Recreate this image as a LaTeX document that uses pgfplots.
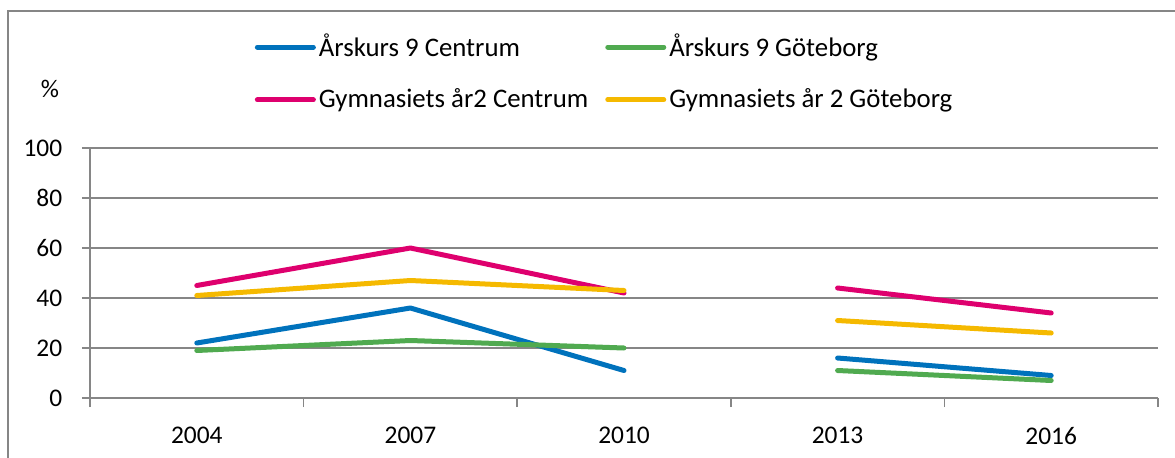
\documentclass[border=0pt]{standalone}
\usepackage{fontspec}
\setmainfont{Carlito}
\usepackage{pgfplots}
\usepackage{pgfplotstable}
\pgfplotsset{compat=1.18}
\definecolor{cblue}{RGB}{0,114,188}
\definecolor{cgreen}{RGB}{80,170,80}
\definecolor{cmag}{RGB}{222,0,110}
\definecolor{cyel}{RGB}{245,185,0}
\definecolor{axgray}{RGB}{134,134,134}
\pgfplotstableread{
x a b c d
0 22 19 45 41
1 36 23 60 47
2 11 20 42 43
2.5 nan nan nan nan
3 16 11 44 31
4 9 7 34 26
}\data
\begin{document}
\fontsize{12.7pt}{15pt}\selectfont
\begin{tikzpicture}
\useasboundingbox (0,0) rectangle (587.5pt,228.5pt);
\draw[axgray, line width=0.75pt] (4pt,-5pt) -- (4pt,223pt) -- (600pt,223pt);
\begin{axis}[
  at={(45pt,29.5pt)}, anchor=south west,
  scale only axis, width=534pt, height=125pt,
  xmin=-0.5, xmax=4.5, ymin=0, ymax=100,
  xtick={0,...,4}, xticklabels={2004,2007,2010,2013,2016},
  ytick={0,20,...,100},
  minor xtick={-0.5,0.5,...,4.5},
  axis x line*=bottom, axis y line*=left,
  axis line style={-, axgray, line width=0.75pt},
  tick align=outside,
  major tick length=4pt, minor tick length=4.5pt,
  major x tick style={draw=none},
  minor x tick style={axgray, line width=0.75pt},
  ytick style={axgray, line width=0.75pt},
  ymajorgrids, grid style={axgray, line width=0.75pt},
  /pgf/number format/assume math mode=true,
  tick label style={font=\fontsize{12.7pt}{15pt}\selectfont},
  xticklabel style={yshift=-6pt},
  yticklabel style={xshift=-5.5pt},
  unbounded coords=jump,
  clip=false,
  legend columns=2,
  legend cell align=left,
  legend style={draw=none, fill=none, at={(axis description cs:0.154,1.47)}, anchor=north west,
    font=\fontsize{13.4pt}{16pt}\selectfont, inner sep=0pt, row sep=11pt,
    nodes={inner sep=1.5pt},
    /tikz/every even column/.append style={column sep=7pt}},
  legend image code/.code={\draw[#1, line cap=round] (0pt,0pt) -- (28pt,0pt);},
  every axis plot/.append style={line width=2.5pt, line cap=round, line join=round},
]
\addplot[cblue] table[x=x,y=a]{\data};
\addlegendentry{Årskurs 9 Centrum}
\addplot[cgreen] table[x=x,y=b]{\data};
\addlegendentry{Årskurs 9 Göteborg}
\addplot[cmag] table[x=x,y=c]{\data};
\addlegendentry{Gymnasiets år2 Centrum}
\addplot[cyel] table[x=x,y=d]{\data};
\addlegendentry{Gymnasiets år 2 Göteborg}
\end{axis}
\node at (25pt,184pt) {\%};
\end{tikzpicture}
\end{document}
